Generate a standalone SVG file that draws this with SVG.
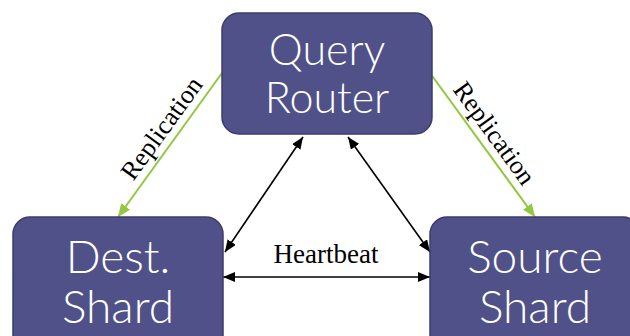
<svg xmlns="http://www.w3.org/2000/svg" width="630" height="336" viewBox="0 0 630 336">
  <style>
    .node rect { fill: #505189; stroke: #3c3d6b; stroke-width: 1.5; }
    .node text { fill: #ffffff; font-family: Lato, "Open Sans", sans-serif; font-weight: 300; text-anchor: middle; }
    .hb { stroke: #000000; stroke-width: 1.6; fill: none; marker-start: url(#blk); marker-end: url(#blk); }
    .rep { stroke: #92c83e; stroke-width: 2; fill: none; marker-end: url(#grn); }
    .lbl { font-family: "Liberation Serif", "Times New Roman", serif; fill: #000000; text-anchor: middle; }
  </style>
  <defs>
    <marker id="blk" viewBox="0 0 12 10" refX="12" refY="5" markerWidth="12" markerHeight="10" markerUnits="userSpaceOnUse" orient="auto-start-reverse">
      <path d="M0,0 L12,5 L0,10 Z" fill="#000000"/>
    </marker>
    <marker id="grn" viewBox="0 0 12 10" refX="12" refY="5" markerWidth="13" markerHeight="11" markerUnits="userSpaceOnUse" orient="auto">
      <path d="M0,0 L12,5 L0,10 Z" fill="#92c83e"/>
    </marker>
  </defs>

  <g id="connectors">
    <line class="rep" x1="222" y1="73" x2="118" y2="217"/>
    <line class="rep" x1="430" y1="73" x2="535" y2="217"/>
    <line class="hb" x1="303" y1="137" x2="225" y2="252"/>
    <line class="hb" x1="348" y1="137" x2="430" y2="252"/>
    <line class="hb" x1="223" y1="277" x2="430" y2="277"/>
    <text class="lbl" font-size="26" transform="translate(175,138) rotate(-54)" y="-8">Replication</text>
    <text class="lbl" font-size="26" transform="translate(481,143) rotate(54)" y="-8">Replication</text>
    <text class="lbl" font-size="27" x="326" y="263">Heartbeat</text>
  </g>

  <g id="query-router" class="node">
    <rect x="222" y="13" width="210" height="121" rx="17"/>
    <text x="327" y="65" font-size="43">Query</text>
    <text x="327" y="113" font-size="43">Router</text>
  </g>

  <g id="dest-shard" class="node">
    <rect x="13" y="217" width="210" height="135" rx="17"/>
    <text x="118" y="273" font-size="46">Dest.</text>
    <text x="118" y="323" font-size="46">Shard</text>
  </g>

  <g id="source-shard" class="node">
    <rect x="430" y="217" width="210" height="135" rx="17"/>
    <text x="535" y="273" font-size="46">Source</text>
    <text x="535" y="323" font-size="46">Shard</text>
  </g>
</svg>
